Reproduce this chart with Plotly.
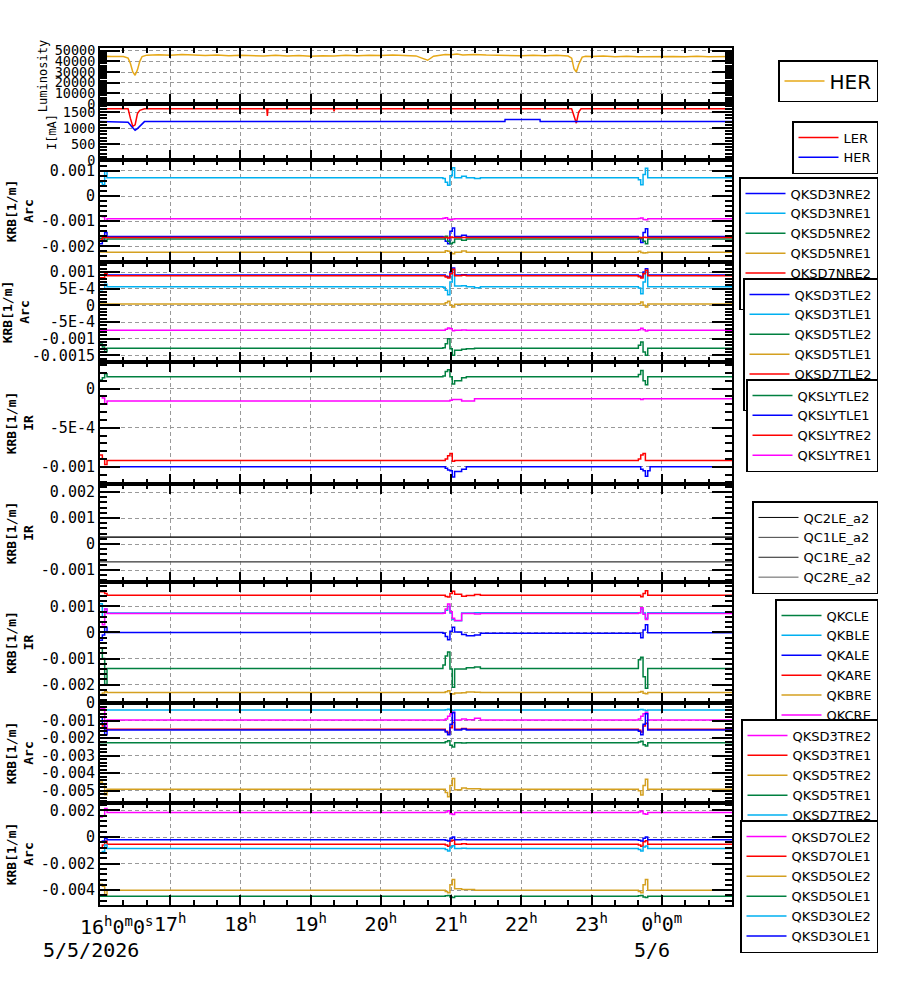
import pandas as pd
import plotly.graph_objects as go
from plotly.subplots import make_subplots

START = pd.Timestamp("2026-05-05 16:00")
END = pd.Timestamp("2026-05-06 01:00")

# ---------------- data (minutes after 16:00 on 5/5/2026) ----------------
LUMI_MIN = [0, 5, 10, 15, 20, 24, 26, 28, 30, 32, 34, 36, 40, 50, 60, 70, 80, 90, 100, 110,
            120, 130, 140, 150, 160, 170, 180, 190, 200, 210, 220, 230, 240, 250, 260, 270, 275, 280, 285, 290,
            295, 300, 305, 310, 320, 330, 340, 350, 360, 370, 380, 390, 400, 403, 405, 407, 409, 412, 415, 420,
            430, 440, 450, 460, 470, 480, 490, 500, 510, 520, 530, 540]
LUMI = [44300, 44800, 44500, 44900, 44600, 43000, 38000, 30000, 27000, 32000, 40000, 44500, 45800, 46200, 45700,
        46400, 45900, 45500, 46000, 45300, 45800, 45200, 44900, 45600, 45100, 45500, 44800, 45200, 45000, 45600,
        45300, 45800, 45400, 45900, 45500, 45100, 43000, 41000, 44800, 45800, 46500, 46200, 46800, 46000, 46500,
        45900, 45600, 45800, 45300, 45700, 45200, 45600, 45000, 43000, 33000, 30000, 37000, 44000, 44800, 44500,
        44900, 44300, 44700, 44200, 44500, 44100, 44600, 44300, 44800, 44400, 44600, 44500]

LER_MIN = [0, 24, 26, 28, 30, 32, 34, 38, 142.5, 143, 143.5, 199.5, 200, 200.5, 403, 405, 407, 409, 411, 540]
LER = [1600, 1600, 1300, 1050, 1100, 1450, 1550, 1600, 1600, 1380, 1600, 1600, 1520, 1600, 1600, 1350, 1150,
       1500, 1600, 1600]
HER_MIN = [0, 24, 27, 30, 32, 35, 38, 346, 346.1, 376, 376.1, 540]
HER = [1200, 1180, 1050, 930, 980, 1100, 1200, 1200, 1265, 1265, 1200, 1200]

# K values in units of 1e-4 [1/m], sampled at KRB_MIN
KRB_UNIT = 1e-4
KRB_MIN = [0, 2, 4, 6, 293, 295, 297, 299, 301, 303, 309, 313, 320, 325, 460, 462, 464, 466, 468, 470, 540]

# panel 3 (Arc)
QKSD3NRE2 = [-19, -18, -14.5, -16.1, -16.3, -18, -19, -14, -12.7, -16.1, -15.6, -16.1, -16.1, -16.1, -17, -18.5, -14.5, -13, -16.1, -16.1, -16.1]
QKSD3NRE1 = [5.5, 4.5, 10, 7.3, 7, 5.5, 4.3, 8, 11.2, 7.3, 7.8, 7.3, 7.0, 7.3, 6.5, 4.5, 8.5, 11, 7.3, 7.3, 7.3]
QKSD5NRE2 = [-16.8, -17.1, -18, -17.1, -17.1, -16, -18, -19, -18.5, -17.1, -17.6, -17.1, -17.1, -17.1, -16.5, -17, -18, -19, -17.1, -17.1, -17.1]
QKSD5NRE1 = [-22.2, -22.2, -22.2, -22.3, -22.3, -21.7, -21.9, -22.6, -22.9, -22.3, -21.8, -22.3, -22.3, -22.3, -21.9, -22.4, -22.6, -22.5, -22.3, -22.3, -22.3]
QKSD7NRE2 = [-17.5, -16.5, -16.5, -16.5, -16.5, -16.5, -16.7, -16.3, -16.5, -16.5, -16.5, -16.5, -16.5, -16.5, -16.5, -16.6, -16.4, -16.5, -16.5, -16.5, -16.5]
QKSD7NRE1 = [-7.9, -8.2, -9.9, -9.0, -8.8, -8.6, -9.2, -9.4, -9.1, -9.0, -9.0, -9.0, -9.0, -9.0, -8.9, -8.7, -9.3, -9.4, -9.0, -9.0, -9.0]

# panel 4 (Arc)
QKSD3TLE2 = [9.1, 9.1, 9.3, 9.1, 9.1, 8.7, 8.5, 10, 11.2, 9.1, 9.2, 9.1, 9.1, 9.1, 8.8, 8.5, 10, 11, 9.1, 9.1, 9.1]
QKSD3TLE1 = [4.7, 5.0, 6.3, 5.6, 5.4, 4.5, 3.2, 7, 10.5, 5.8, 5.9, 5.6, 5.3, 5.6, 5.2, 3.5, 7, 10, 5.6, 5.6, 5.6]
QKSD5TLE2 = [-11.6, -12.5, -13.9, -12.9, -12.7, -11.5, -10, -13, -15, -13.5, -13.2, -13, -12.9, -12.9, -12, -11, -14, -15, -12.9, -12.9, -12.9]
QKSD5TLE1 = [0.4, 0.4, 0.4, 0.4, 0.4, 0.8, 1.2, 0, -0.5, 0.3, 0.4, 0.4, 0.4, 0.4, 0.5, 1, 0, -0.5, 0.4, 0.4, 0.4]
QKSD7TLE2 = [8.3, 8.3, 9.5, 8.9, 8.9, 8.5, 8.2, 9.5, 10.8, 8.9, 9.0, 8.9, 8.9, 8.9, 8.6, 8.2, 9.5, 10.5, 8.9, 8.9, 8.9]
QKSD7TLE1 = [-7.5, -7.5, -7.5, -7.5, -7.5, -7.2, -6.8, -7.0, -7.6, -7.5, -7.4, -7.5, -7.5, -7.5, -7.3, -6.9, -7.3, -7.7, -7.5, -7.5, -7.5]

# panel 5 (IR)
QKSLYTLE2 = [1.1, 1.4, 1.9, 1.5, 1.6, 2.2, 2.4, 1.5, 0.6, 1.0, 1.4, 1.5, 1.5, 1.5, 1.8, 2.3, 1.0, 0.5, 1.5, 1.5, 1.5]
QKSLYTLE1 = [-10, -10, -10, -10, -10, -10.2, -10.4, -10.5, -11.3, -10.6, -10.3, -10, -10, -10, -10, -10.3, -10.5, -11.2, -10.5, -10, -10]
QKSLYTRE2 = [-8.5, -9.0, -9.7, -9.2, -9.2, -9.0, -8.6, -8.3, -9.3, -9.2, -9.2, -9.2, -9.2, -9.2, -9.0, -8.5, -8.3, -9.2, -9.2, -9.2, -9.2]
QKSLYTRE1 = [-0.9, -1.2, -2.0, -1.6, -1.6, -1.6, -1.6, -1.5, -1.4, -1.4, -1.6, -1.6, -1.3, -1.3, -1.3, -1.4, -1.3, -1.3, -1.3, -1.3, -1.3]

# panel 6 (IR)
QC_MIN = [0, 540]
QC2LE_a2 = [2.7, 2.7]
QC1LE_a2 = [-6.8, -6.8]
QC1RE_a2 = [2.6, 2.6]
QC2RE_a2 = [-6.9, -6.9]

# panel 7 (IR)
QKCLE = [-6, -10, -20, -13.8, -12.5, -9, -7.5, -14, -21, -14, -14, -13.6, -13.3, -13.8, -10.5, -9.5, -17, -21.4, -13.8, -13.8, -13.8]
QKBLE = [11, 6, 9, 7.5, 7.6, 8.5, 10, 7.5, 5, 4.5, 7.5, 7.5, 7.6, 7.6, 7.6, 9, 7.5, 5.5, 7.6, 7.6, 7.6]
QKALE = [-3, -1, 2, 0, -0.3, -1.5, -2.8, 0.5, 2, 0.2, -0.8, -1.3, -1.0, -0.3, -0.3, -2, 1, 3, -0.1, -0.1, -0.1]
QKARE = [15.7, 15.7, 15, 14.3, 14.3, 13.8, 13.6, 15, 15.8, 14.7, 13.9, 14.2, 14.6, 14.3, 14.3, 13.7, 15, 16, 14.3, 14.3, 14.3]
QKBRE = [-23.8, -23.3, -22.8, -23.1, -23.1, -22.8, -22.4, -23.5, -23.6, -23.3, -23.2, -22.9, -23, -23.1, -23, -22.7, -23.4, -23.5, -23.1, -23.1, -23.1]
QKCRE = [4, 3, 9, 7.3, 7.4, 9, 10.9, 8, 5.5, 4.6, 7.3, 7.3, 7.1, 7.3, 7.6, 9.5, 7, 5, 7.3, 7.3, 7.3]

# panel 8 (Arc)
QKSD3TRE2 = [-3, -3, -15, -9.6, -9.6, -9, -7.5, -6, -5, -9.6, -9, -9.4, -8.6, -9.6, -9, -7.5, -6, -5.2, -9.6, -9.6, -9.6]
QKSD3TRE1 = [-12, -13, -16, -14.9, -14.9, -16, -17, -14, -11, -14.9, -14.5, -14.9, -14.9, -14.9, -15.5, -16.5, -13, -11.5, -14.9, -14.9, -14.9]
QKSD5TRE2 = [-45, -46, -52.3, -49.2, -49.2, -51, -53.4, -47, -43, -49.5, -48.5, -48.8, -48.8, -49.2, -50, -52.5, -47, -43.5, -49.2, -49.2, -49.2]
QKSD5TRE1 = [-22.6, -22.6, -22.6, -22.6, -22.6, -22, -21.5, -24, -25, -22.6, -22.8, -22.6, -22.6, -22.6, -22.2, -21.7, -23.8, -24.5, -22.6, -22.6, -22.6]
QKSD7TRE2 = [-3.9, -3.9, -3.9, -3.9, -3.9, -3.7, -3.5, -3.9, -4.2, -3.9, -3.9, -3.9, -3.9, -3.9, -3.8, -3.6, -3.9, -4.2, -3.9, -3.9, -3.9]
QKSD7TRE1 = [-8, -12, -18, -15.3, -15.3, -16.5, -18, -12, -5.5, -15.3, -14.8, -15.3, -15.3, -15.3, -16, -18, -12, -6, -15.3, -15.3, -15.3]

# panel 9 (Arc)
QKSD7OLE2 = [15, 16, 21.5, 18.5, 18.5, 18.8, 19.8, 17.5, 17, 18.5, 18.5, 18.5, 18.5, 18.5, 18.8, 19.5, 17.5, 17.2, 18.5, 18.5, 18.5]
QKSD7OLE1 = [-8, -6, -3, -5.4, -5.4, -6, -7, -3, -2.5, -5.4, -5, -5.4, -5.4, -5.4, -6, -7, -3.5, -2.8, -5.4, -5.4, -5.4]
QKSD5OLE2 = [-35.5, -37, -44.4, -40, -40, -41, -42, -36, -32, -39, -39.5, -39.5, -40, -40, -41, -42, -36, -32, -40, -40, -40]
QKSD5OLE1 = [-44.6, -44.6, -44.6, -44.6, -44.6, -44.3, -44, -45.2, -45.6, -44.6, -44.6, -44.6, -44.6, -44.6, -44.3, -44, -45.2, -45.6, -44.6, -44.6, -44.6]
QKSD3OLE2 = [-12, -11, -6, -8.7, -8.7, -9.5, -10.5, -7.5, -6.5, -8.7, -8.5, -8.7, -8.7, -8.7, -9.5, -10.5, -7.5, -6.8, -8.7, -8.7, -8.7]
QKSD3OLE1 = [-4, -3, -1, -2, -2, -2.5, -3, -1, 0, -2, -1.8, -2, -2, -2, -2.5, -3, -1, 0, -2, -2, -2]

# ---------------- styling ----------------
BLUE, CYAN, GREEN, GOLD, RED, MAG = "#0000ff", "#00b0f0", "#008040", "#d4a020", "#ff0000", "#ff00ff"
LUMI_GOLD = "#e6a817"
MONO = "DejaVu Sans Mono"
SANS = "DejaVu Sans"

ROW_PX = [56, 56, 102, 100, 122, 98, 121, 100, 102]
fig = make_subplots(rows=9, cols=1, shared_xaxes=True, vertical_spacing=0, row_heights=ROW_PX)


def at(mins):
    return [START + pd.Timedelta(minutes=m) for m in mins]


fig.add_trace(go.Scatter(x=at(LUMI_MIN), y=LUMI, mode="lines", name="HER",
                         line=dict(color=LUMI_GOLD, width=1.5), legend="legend"), row=1, col=1)
fig.add_trace(go.Scatter(x=at(LER_MIN), y=LER, mode="lines", name="LER",
                         line=dict(color=RED, width=1.5), legend="legend2"), row=2, col=1)
fig.add_trace(go.Scatter(x=at(HER_MIN), y=HER, mode="lines", name="HER",
                         line=dict(color=BLUE, width=1.5), legend="legend2"), row=2, col=1)

PANELS = {
    3: [("QKSD3NRE2", QKSD3NRE2, BLUE), ("QKSD3NRE1", QKSD3NRE1, CYAN), ("QKSD5NRE2", QKSD5NRE2, GREEN),
        ("QKSD5NRE1", QKSD5NRE1, GOLD), ("QKSD7NRE2", QKSD7NRE2, RED), ("QKSD7NRE1", QKSD7NRE1, MAG)],
    4: [("QKSD3TLE2", QKSD3TLE2, BLUE), ("QKSD3TLE1", QKSD3TLE1, CYAN), ("QKSD5TLE2", QKSD5TLE2, GREEN),
        ("QKSD5TLE1", QKSD5TLE1, GOLD), ("QKSD7TLE2", QKSD7TLE2, RED), ("QKSD7TLE1", QKSD7TLE1, MAG)],
    5: [("QKSLYTLE2", QKSLYTLE2, GREEN), ("QKSLYTLE1", QKSLYTLE1, BLUE), ("QKSLYTRE2", QKSLYTRE2, RED),
        ("QKSLYTRE1", QKSLYTRE1, MAG)],
    7: [("QKCLE", QKCLE, GREEN), ("QKBLE", QKBLE, CYAN), ("QKALE", QKALE, BLUE), ("QKARE", QKARE, RED),
        ("QKBRE", QKBRE, GOLD), ("QKCRE", QKCRE, MAG)],
    8: [("QKSD3TRE2", QKSD3TRE2, MAG), ("QKSD3TRE1", QKSD3TRE1, RED), ("QKSD5TRE2", QKSD5TRE2, GOLD),
        ("QKSD5TRE1", QKSD5TRE1, GREEN), ("QKSD7TRE2", QKSD7TRE2, CYAN), ("QKSD7TRE1", QKSD7TRE1, BLUE)],
    9: [("QKSD7OLE2", QKSD7OLE2, MAG), ("QKSD7OLE1", QKSD7OLE1, RED), ("QKSD5OLE2", QKSD5OLE2, GOLD),
        ("QKSD5OLE1", QKSD5OLE1, GREEN), ("QKSD3OLE2", QKSD3OLE2, CYAN), ("QKSD3OLE1", QKSD3OLE1, BLUE)],
}
for row, series in PANELS.items():
    for name, vals, col in series:
        fig.add_trace(go.Scatter(x=at(KRB_MIN), y=[v * KRB_UNIT for v in vals], mode="lines", name=name,
                                 line=dict(color=col, width=1.5, shape="hv"), legend=f"legend{row}"),
                      row=row, col=1)

for name, vals, col in [("QC2LE_a2", QC2LE_a2, "#000000"), ("QC1LE_a2", QC1LE_a2, "#404040"),
                        ("QC1RE_a2", QC1RE_a2, "#202020"), ("QC2RE_a2", QC2RE_a2, "#606060")]:
    fig.add_trace(go.Scatter(x=at(QC_MIN), y=[v * KRB_UNIT for v in vals], mode="lines", name=name,
                             line=dict(color=col, width=1), legend="legend6"), row=6, col=1)

# ---------------- axes ----------------
GRID = dict(showgrid=True, gridcolor="#999999", gridwidth=1, griddash="4px,3px")
FRAME = dict(showline=True, linewidth=2, linecolor="black", mirror="allticks", zeroline=False, automargin=False)

Y_AXES = {
    1: dict(range=[0, 52500], vals=[0, 10000, 20000, 30000, 40000, 50000], minor=2000, size=13.5,
            title="Luminosity", bold=False, tsize=12),
    2: dict(range=[0, 1750], vals=[0, 500, 1000, 1500], minor=100, size=13.5, title="I[mA]", bold=False, tsize=12),
    3: dict(range=[-0.00262, 0.00143], vals=[-0.002, -0.001, 0, 0.001], minor=0.0002, size=15,
            title="KRB[1/m]<br>Arc"),
    4: dict(range=[-0.0017, 0.0013], vals=[-0.0015, -0.001, -0.0005, 0, 0.0005, 0.001], minor=0.0001, size=15,
            title="KRB[1/m]<br>Arc",
            text=["-0.0015", "-0.001", "-5E-4", "0", "5E-4", "0.001"]),
    5: dict(range=[-0.00122, 0.00034], vals=[-0.001, -0.0005, 0], minor=0.0001, size=15,
            title="KRB[1/m]<br>IR", text=["-0.001", "-5E-4", "0"]),
    6: dict(range=[-0.00146, 0.00231], vals=[-0.001, 0, 0.001, 0.002], minor=0.0002, size=15,
            title="KRB[1/m]<br>IR"),
    7: dict(range=[-0.00271, 0.00194], vals=[-0.002, -0.001, 0, 0.001], minor=0.0002, size=15,
            title="KRB[1/m]<br>IR"),
    8: dict(range=[-0.0057, 0.00001], vals=[-0.005, -0.004, -0.003, -0.002, -0.001, 0], minor=0.0002, size=15,
            title="KRB[1/m]<br>Arc"),
    9: dict(range=[-0.00512, 0.00256], vals=[-0.004, -0.002, 0, 0.002], minor=0.0004, size=15,
            title="KRB[1/m]<br>Arc"),
}
for row, cfg in Y_AXES.items():
    text = cfg.get("text") or [("%g" % v) for v in cfg["vals"]]
    bold = cfg.get("bold", True)
    ttl = f"<b>{cfg['title'].replace('<br>', '</b><br><b>')}</b>" if bold else cfg["title"]
    fig.update_yaxes(row=row, col=1, range=cfg["range"], tickmode="array", tickvals=cfg["vals"], ticktext=text,
                     ticks="inside", ticklen=20, tickwidth=2, tickcolor="black",
                     minor=dict(dtick=cfg["minor"], tick0=0, ticks="inside", ticklen=7, tickwidth=1.5,
                                tickcolor="black", showgrid=False),
                     tickfont=dict(family=MONO, size=cfg["size"], color="black"),
                     title=dict(text=ttl, font=dict(family=MONO, size=cfg.get("tsize", 13), color="black"),
                                standoff=4),
                     **GRID, **FRAME)

HOURS = [START + pd.Timedelta(hours=h) for h in range(1, 9)]
HOUR_TEXT = ["17<sup>h</sup>", "18<sup>h</sup>", "19<sup>h</sup>", "20<sup>h</sup>", "21<sup>h</sup>",
             "22<sup>h</sup>", "23<sup>h</sup>", "0<sup>h</sup>0<sup>m</sup>"]
fig.update_xaxes(type="date", range=[START, END], tickmode="array", tickvals=HOURS, ticktext=HOUR_TEXT,
                 ticks="inside", ticklen=10, tickwidth=2, tickcolor="black",
                 minor=dict(dtick=20 * 60 * 1000, tick0=START, ticks="inside", ticklen=5, tickwidth=1.5,
                            tickcolor="black", showgrid=False),
                 showticklabels=False, **GRID, **FRAME)
fig.update_xaxes(row=9, col=1, showticklabels=True, tickfont=dict(family=MONO, size=20, color="black"))

# first time label and the date lines
LABELS = [(START, "16<sup>h</sup>0<sup>m</sup>0<sup>s</sup>", 17, -6),
          (START, "5/5/2026", -9, -31),
          (START + pd.Timedelta(hours=8), "5/6", -10, -31)]
for xv, txt, dx, dy in LABELS:
    fig.add_annotation(x=xv, xref="x9", y=0, yref="paper", yanchor="top", text=txt, showarrow=False,
                       xshift=dx, yshift=dy, font=dict(family=MONO, size=20, color="black"))

# ---------------- legends ----------------
PLOT_TOP, PLOT_BOTTOM, PLOT_LEFT, PLOT_RIGHT = 48, 905, 100, 732
LEG_RIGHT = 878
LEG_TOPS = {1: 60, 2: 121, 3: 177, 4: 278, 5: 379, 6: 501, 7: 599, 8: 719, 9: 820}
legends = {}
for row, top in LEG_TOPS.items():
    key = "legend" if row == 1 else f"legend{row}"
    legends[key] = dict(x=(LEG_RIGHT - PLOT_LEFT) / (PLOT_RIGHT - PLOT_LEFT), xanchor="right",
                        y=(PLOT_BOTTOM - top) / (PLOT_BOTTOM - PLOT_TOP), yanchor="top",
                        bgcolor="white", bordercolor="black", borderwidth=1.5, tracegroupgap=0, itemwidth=40,
                        font=dict(family=SANS, size=20 if row == 1 else 13, color="black"))

fig.update_layout(width=900, height=984, margin=dict(l=100, r=168, t=48, b=79, autoexpand=False),
                  paper_bgcolor="white", plot_bgcolor="white", showlegend=True, **legends)

fig.write_html("out.html")
